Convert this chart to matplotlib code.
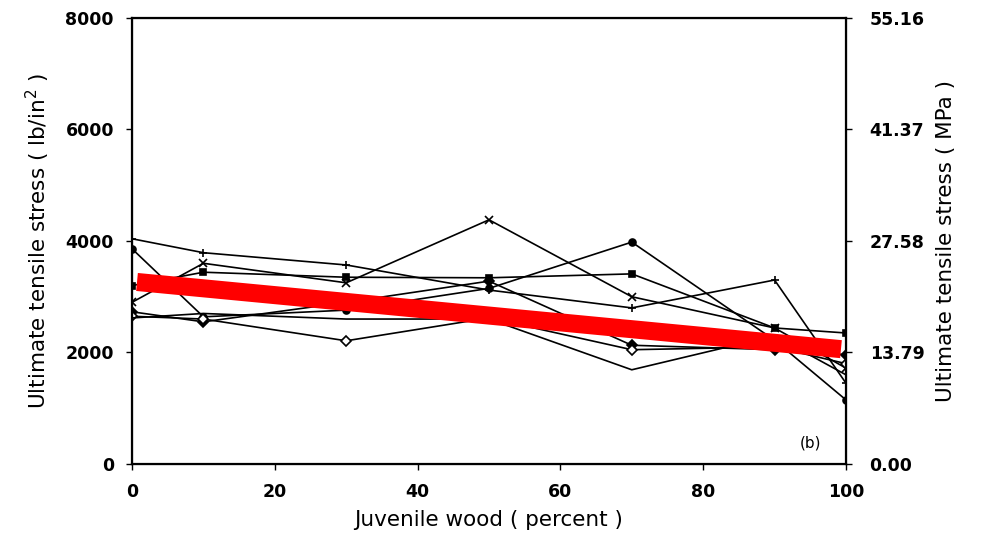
import matplotlib.pyplot as plt
import numpy as np

# juvenile wood content (percent) of each specimen group
juvenile_pct = [0, 10, 30, 50, 70, 90, 100]

# ultimate tensile stress (lb/in2) for each board series
series_x = [2900, 3600, 3250, 4380, 3000, 2440, 1720]
series_plus = [4040, 3790, 3570, 3120, 2800, 3300, 1450]
series_dot = [3860, 2640, 2760, 3150, 3980, 2220, 1150]
series_square = [3200, 3440, 3350, 3340, 3410, 2440, 2350]
series_fdiamond = [2730, 2550, 2900, 3280, 2130, 2050, 1960]
series_odiamond = [2650, 2600, 2210, 2620, 2050, 2100, 1800]
series_plain = [2620, 2700, 2600, 2600, 1690, 2300, 1600]

# fitted trend line (lb/in2), drawn just inside the frame
trend_x = [0.7, 99.3]
trend_y = [3265, 2060]

left_ticks = [0, 2000, 4000, 6000, 8000]
right_ticks = [0.00, 13.79, 27.58, 41.37, 55.16]
x_ticks = [0, 20, 40, 60, 80, 100]

plt.rcParams['font.family'] = ['DejaVu Sans']

fig = plt.figure(figsize=(9.83, 5.35), dpi=100)
ax = fig.add_axes([0.1343, 0.1327, 0.7263, 0.8337])

# each series with its own marker
styles = [
    (series_x, 'x', 'black', 6),
    (series_plus, '+', 'black', 6),
    (series_dot, 'o', 'black', 5),
    (series_square, 's', 'black', 5),
    (series_fdiamond, 'D', 'black', 5),
    (series_odiamond, 'D', 'white', 5),
    (series_plain, '', 'black', 5),
]
for vals, mk, face, ms in styles:
    ax.plot(juvenile_pct, vals, color='black', linewidth=1.2, marker=mk,
            markersize=ms, markerfacecolor=face, markeredgecolor='black',
            markeredgewidth=1.2)

# thick red trend line on top
ax.plot(trend_x, trend_y, color='#ff0000', linewidth=13, solid_capstyle='butt', zorder=5)

ax.set_xlim(0, 100)
ax.set_ylim(0, 8000)
ax.set_xticks(x_ticks)
ax.set_yticks(left_ticks)
ax.tick_params(axis='x', direction='out', length=4, width=1, labelsize=12.5, pad=10)
ax.tick_params(axis='y', direction='out', length=4, width=1, labelsize=12.5, pad=9)
for lab in ax.get_xticklabels() + ax.get_yticklabels():
    lab.set_fontweight('bold')

for sp in ax.spines.values():
    sp.set_linewidth(1.6)

ax.set_xlabel('Juvenile wood ( percent )', fontsize=15.5, labelpad=6)
ax.set_ylabel('Ultimate tensile stress ( lb/in$^2$ )', fontsize=15.5, labelpad=10)

# metric scale on the right
ax2 = ax.twinx()
ax2.set_ylim(0, 55.16)
ax2.set_yticks(right_ticks)
ax2.set_yticklabels([f'{v:.2f}' for v in right_ticks])
ax2.tick_params(axis='y', direction='out', length=4, width=1, labelsize=12.5, pad=13)
for lab in ax2.get_yticklabels():
    lab.set_fontweight('bold')
ax2.set_ylabel('Ultimate tensile stress ( MPa )', fontsize=15.5, labelpad=8)

ax.text(0.95, 0.03, '(b)', transform=ax.transAxes, fontsize=11, ha='center', va='bottom')

fig.savefig('out.png', dpi=100)
